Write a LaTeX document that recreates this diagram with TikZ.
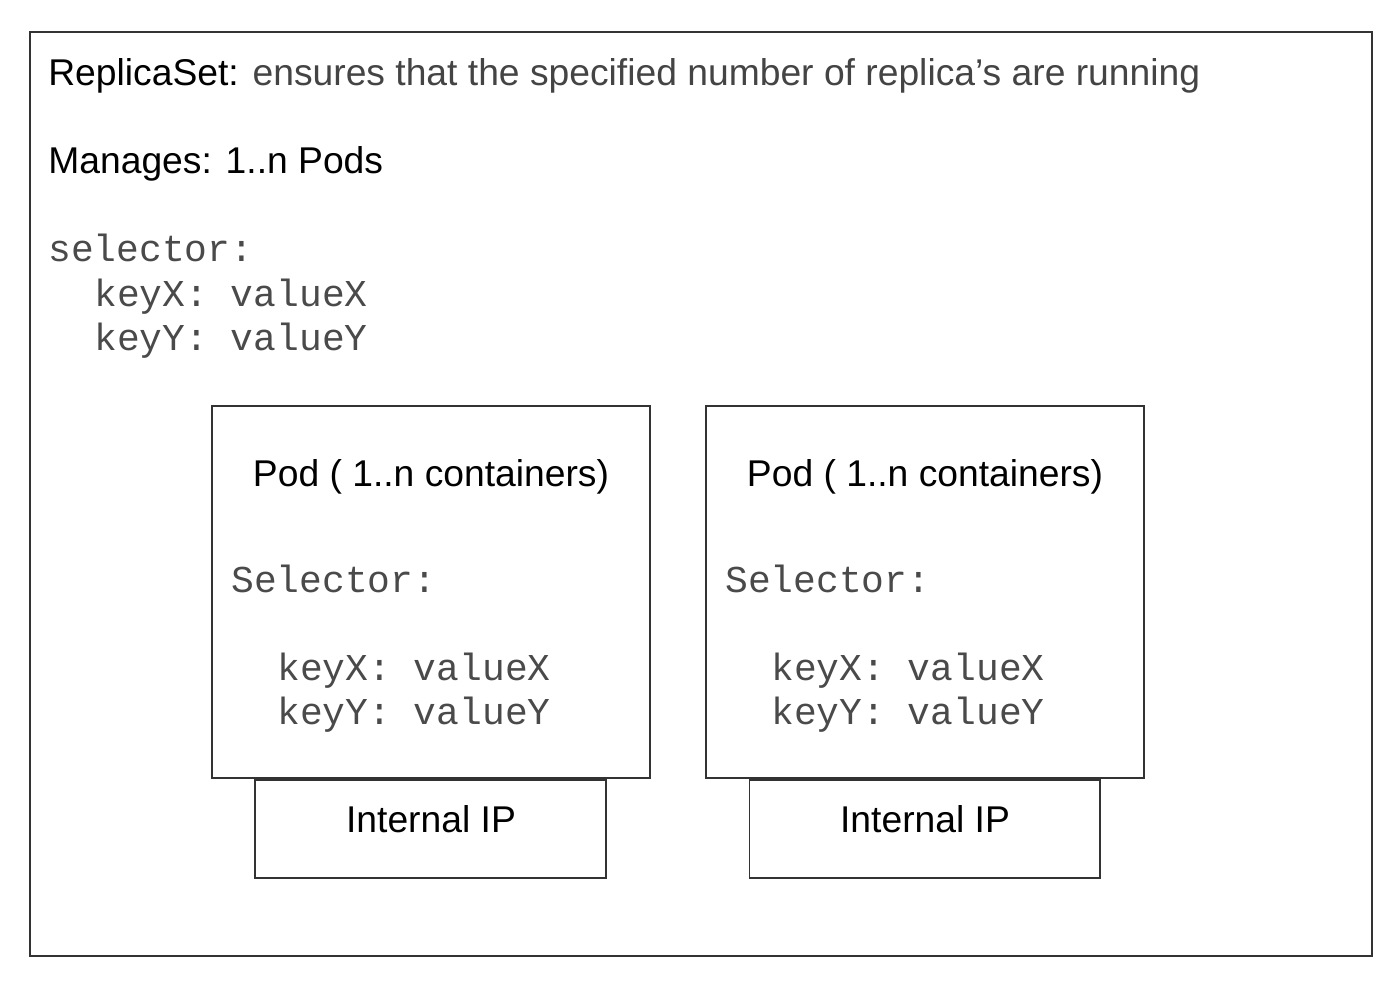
\documentclass[tikz,border=0pt]{standalone}
\usepackage{fontspec}
\setmainfont{Liberation Sans}
\setmonofont{Liberation Mono}
\usetikzlibrary{positioning}
\definecolor{trait}{HTML}{333333}
\definecolor{grisT}{HTML}{444444}
\definecolor{grisM}{HTML}{4A4A4A}
\tikzset{
  cadre/.style={rectangle, draw=trait, line width=1.1pt, inner sep=0pt},
  titre/.style={anchor=base west, inner sep=0pt, font=\fontsize{21.2}{25}\selectfont},
  code/.style={anchor=base west, inner sep=0pt, text=grisM, font=\ttfamily\fontsize{21.6}{25}\selectfont},
}
\begin{document}
\begin{tikzpicture}[x=0.02cm, y=-0.02cm]
  \useasboundingbox (0,0) rectangle (1398,986);
  \node[cadre, minimum width=26.84cm, minimum height=18.48cm, anchor=north west] (rs) at (29,31) {};
  \node[titre] (t1) at (48,86) {ReplicaSet: \textcolor{grisT}{ensures that the specified number of replica’s are running}};
  \node[titre] (t2) at (48,174) {Manages: 1..n Pods};
  \node[code] (sel) at (48,262) {selector:};
  \node[code] (kx) at (94,306) {keyX: valueX};
  \node[code] (ky) at (94,350) {keyY: valueY};
  % les deux pods et leur IP
  \foreach \n/\x in {a/211, b/705} {
    \node[cadre, minimum width=8.76cm, minimum height=7.44cm, anchor=north west] (pod\n) at (\x,405) {};
    \node[cadre, minimum width=7.02cm, minimum height=1.96cm, below=0pt of pod\n] (ip\n) {};
    \node[titre, anchor=base] (pt\n) at (\x+220,486) {Pod ( 1..n containers)};
    \node[code] (ps\n) at (\x+20,592) {Selector:};
    \node[code] (px\n) at (\x+66,680) {keyX: valueX};
    \node[code] (py\n) at (\x+66,724) {keyY: valueY};
    \node[titre, anchor=base] (it\n) at (\x+220,832) {Internal IP};
  }
\end{tikzpicture}
\end{document}
